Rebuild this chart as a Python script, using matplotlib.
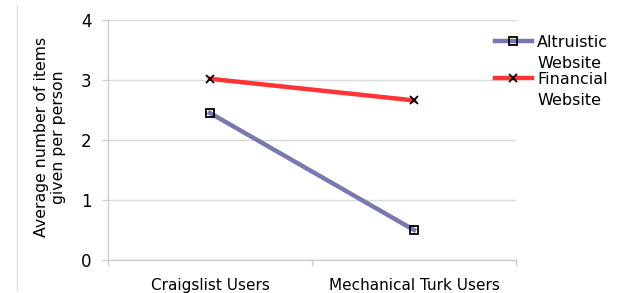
import matplotlib
matplotlib.use("Agg")
import matplotlib.pyplot as plt
from matplotlib.lines import Line2D

categories = ["Craigslist Users", "Mechanical Turk Users"]
altruistic = [2.45, 0.50]
financial = [3.02, 2.66]
series_labels = ["Altruistic\nWebsite", "Financial\nWebsite"]
yticks = [0, 1, 2, 3, 4]

plt.rcParams['font.family'] = ['DejaVu Sans']
W, H = 636, 293
fig = plt.figure(figsize=(W/100, H/100), dpi=100)
ax = fig.add_axes([108/W, 1-260/H, (516-108)/W, 240/H])

x = list(range(len(categories)))
c_alt = '#7878B2'
c_fin = '#FF3333'
ax.plot(x, altruistic, color=c_alt, lw=3.2, marker='s', ms=6, mfc='none', mec='black', mew=1.3, zorder=3)
ax.plot(x, financial, color=c_fin, lw=3.2, marker='x', ms=6, mec='black', mew=1.3, zorder=3)

ax.set_xlim(-0.5, 1.5)
ax.set_ylim(0, 4)
ax.set_yticks(yticks)
ax.set_xticks([-0.5, 0.5, 1.5], minor=False)
ax.set_xticklabels([])
ax.set_xticks(x, minor=True)
ax.set_xticklabels(categories, minor=True, fontsize=11)
ax.tick_params(axis='x', which='minor', length=0, pad=13)
ax.tick_params(axis='x', which='major', length=4, color='#cccccc', width=1)
ax.tick_params(axis='y', length=4, color='#cccccc', width=1, pad=8, labelsize=12)
ax.yaxis.grid(True, color='#d9d9d9', lw=1)
ax.set_axisbelow(True)
for s in ['top', 'right']:
    ax.spines[s].set_visible(False)
for s in ['left', 'bottom']:
    ax.spines[s].set_color('#cccccc')
    ax.spines[s].set_linewidth(1)

fig.text(50/W, 1-137/H, "Average number of items\ngiven per person", rotation=90,
         ha='center', va='center', multialignment='center', fontsize=11.3, linespacing=1.1)

# frame line at left
fig.add_artist(Line2D([17/W, 17/W], [1-290/H, 1-5/H], color='#dddddd', lw=1))

# legend (manual)
leg_y = [41, 78]
styles = [dict(color=c_alt, marker='s', mfc='none'),
          dict(color=c_fin, marker='x', mfc='none')]
for lab, yy, st in zip(series_labels, leg_y, styles):
    fig.add_artist(Line2D([495/W, 532/W], [1-yy/H]*2, lw=3.2, color=st['color']))
    fig.add_artist(Line2D([513/W], [1-yy/H], lw=0, ms=6, mew=1.3,
                          marker=st['marker'], mfc='none', mec='black'))
    fig.text(537/W, 1-(yy-6)/H, lab, ha='left', va='top', fontsize=11.5, linespacing=1.5)

fig.savefig("out.png", dpi=100)
